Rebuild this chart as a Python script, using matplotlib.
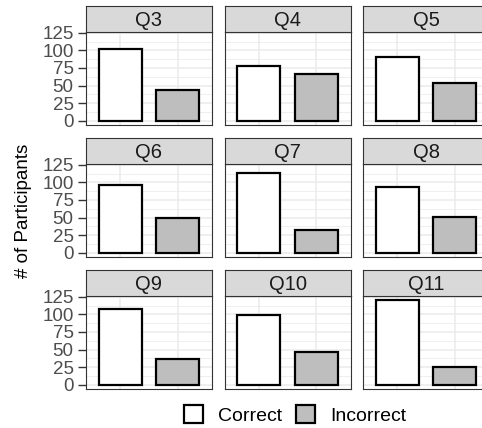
import matplotlib.pyplot as plt
from matplotlib.patches import Patch

plt.rcParams['font.family'] = ['Liberation Sans', 'DejaVu Sans']

questions = ['Q3', 'Q4', 'Q5', 'Q6', 'Q7', 'Q8', 'Q9', 'Q10', 'Q11']
correct = [102, 78, 91, 96, 113, 94, 108, 99, 120]
incorrect = [43, 67, 54, 49, 32, 51, 37, 46, 25]
groups = ['Correct', 'Incorrect']
fills = ['white', '#BEBEBE']
yticks = [0, 25, 50, 75, 100, 125]

W, H = 482, 428
fig = plt.figure(figsize=(W / 100, H / 100), dpi=100)


def box(x, y, w, h):
    # pixel box (top-left origin) -> figure fraction
    return [x / W, 1 - (y + h) / H, w / W, h / H]


col_left = [86, 224.5, 363]
strip_top = [6, 138, 270]
pw, sh, ph = 126, 26, 93
ymax = max(correct + incorrect)

for i, q in enumerate(questions):
    r, c = divmod(i, 3)
    x0, y0 = col_left[c], strip_top[r]

    ax = fig.add_axes(box(x0, y0 + sh, pw, ph))
    ax.set_axisbelow(True)
    ax.bar([1, 2], [correct[i], incorrect[i]], width=0.75, color=fills,
           edgecolor='black', linewidth=1.6)
    ax.set_xlim(0.4, 2.6)
    ax.set_ylim(-0.05 * ymax, 1.05 * ymax)
    ax.set_xticks([1, 2])
    ax.set_yticks(yticks)
    ax.set_yticks([12.5, 37.5, 62.5, 87.5, 112.5], minor=True)
    ax.grid(which='major', color='#EBEBEB', linewidth=1.1)
    ax.grid(which='minor', axis='y', color='#EBEBEB', linewidth=0.55)
    ax.tick_params(axis='x', length=0, labelbottom=False)
    ax.tick_params(axis='y', which='minor', length=0)
    if c == 0:
        ax.tick_params(axis='y', which='major', length=6, width=1.0,
                       color='#333333', pad=3, labelsize=13.5, labelcolor='#4D4D4D')
    else:
        ax.tick_params(axis='y', which='major', length=0, labelleft=False)
    for s in ax.spines.values():
        s.set_color('#333333')
        s.set_linewidth(0.8)

    st = fig.add_axes(box(x0, y0, pw, sh))
    st.set_facecolor('#D9D9D9')
    st.set_xticks([])
    st.set_yticks([])
    for s in st.spines.values():
        s.set_color('#333333')
        s.set_linewidth(0.8)
    st.text(0.5, 0.45, q, ha='center', va='center', fontsize=14.5,
            color='#1A1A1A', transform=st.transAxes)

fig.text(24 / W, 1 - 211 / H, '# of Participants', rotation=90,
         ha='center', va='center', fontsize=13.5)

handles = [Patch(facecolor=f, edgecolor='black', linewidth=1.6) for f in fills]
fig.legend(handles, groups, loc='center', bbox_to_anchor=(295 / W, 1 - 415 / H),
           ncol=2, frameon=False, fontsize=14, handlelength=1.0, handleheight=1.0,
           handletextpad=0.75, columnspacing=0.7)

fig.savefig('out.png', dpi=100)
